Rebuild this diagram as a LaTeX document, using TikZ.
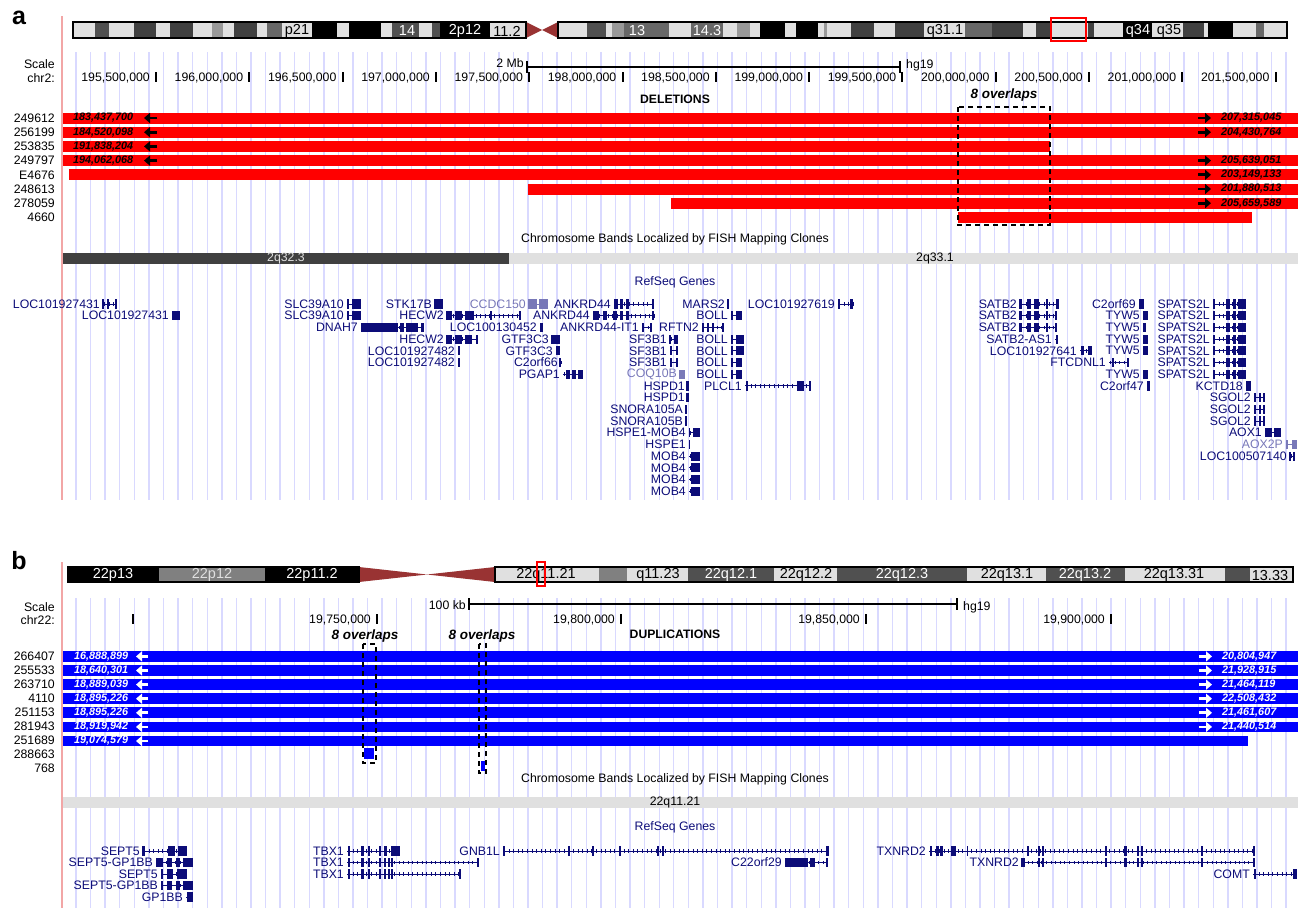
\documentclass[tikz,border=0pt]{standalone}
\usepackage{fontspec}
\setmainfont{Liberation Sans}
\usetikzlibrary{arrows.meta}

\definecolor{gridcol}{HTML}{D9D9FF}
\definecolor{pinkcol}{HTML}{F2A6A6}
\definecolor{genecol}{HTML}{0C0C78}
\definecolor{genelite}{HTML}{7878B8}
\definecolor{cenred}{HTML}{993333}
\definecolor{delred}{HTML}{FF0000}
\definecolor{dupblue}{HTML}{0000FF}
\definecolor{bandlt}{HTML}{E0E0E0}
\definecolor{band40}{HTML}{404040}
\definecolor{band50}{HTML}{505050}
\definecolor{band60}{HTML}{686868}
\definecolor{band80}{HTML}{808080}
\definecolor{band90}{HTML}{999999}

\tikzset{
  txt/.style={inner sep=0pt, font=\fontsize{12.3}{14}\selectfont},
  lbl/.style={txt, anchor=east},
  glbl/.style={txt, anchor=east, text=genecol},
  bandtxt/.style={inner sep=0pt, font=\fontsize{14.5}{15}\selectfont},
  bartxt/.style={inner sep=0pt, anchor=west, font=\fontsize{10.8}{12}\selectfont\bfseries\itshape},
  barr/.style={line width=2.8pt, -{Triangle[length=6pt,width=10pt]}},
  ovl/.style={inner sep=0pt, font=\fontsize{13.5}{15}\selectfont\bfseries\itshape},
  ovbox/.style={line width=1.5pt, dash pattern=on 5pt off 4pt},
  ideo/.style={line width=1.8pt},
  tick/.style={line width=2pt},
}

% gene: [colour]{name}{row}{label end}{text}{glyph end}{exons}
\newcommand\gene[7][genecol]{%
  \pgfmathsetmacro\gy{\rowy+\rowdy*#3}
  \node[glbl, text=#1] (#2) at (#4,\gy) {#5};
  \draw[#1, line width=0.9pt] (#4+3,\gy) -- (#6,\gy);
  \draw[#1, line width=3.6pt, dash pattern=on 0.8pt off 3.8pt] (#4+4,\gy) -- (#6,\gy);
  \foreach \ea/\eb in {#7} {\fill[#1] (\ea,\gy-4.6) rectangle (\eb,\gy+4.6);}
}

\begin{document}
\begin{tikzpicture}[x=1pt,y=-1pt]
  \useasboundingbox (0,0) rectangle (1298,908);

  % background grid and left rules
  \foreach \k in {0,...,83}{
    \draw[gridcol, line width=1.4pt] (76+14.58*\k,52) -- (76+14.58*\k,500);
    \draw[gridcol, line width=1.4pt] (76+14.58*\k,598) -- (76+14.58*\k,908);
  }
  \draw[pinkcol, line width=1.4pt] (62,16) -- (62,500);
  \draw[pinkcol, line width=1.4pt] (62,562) -- (62,908);

  %%%%%%%%%%%%%%%% panel a
  \node[inner sep=0pt, font=\fontsize{25}{25}\selectfont\bfseries] (pa) at (19,18) {a};

  % ideogram chr2
  \fill[bandlt] (73,22) rectangle (526,38);
  \fill[bandlt] (558,22) rectangle (1287,38);
  \foreach \xa/\xb/\bc in {95/109/band50, 134/156/band40, 170/193/band40, 212/223/band90,
      234/257/band40, 267/282/band60, 312/337/black, 349/381/black, 392/419/band50,
      432/440/band50, 440/490/black, 587/606/band50, 612/624/band90, 624/669/band60,
      691/723/band60, 737/750/band90, 760/785/black, 796/818/black, 824/827/band90,
      851/874/band40, 895/924/band40, 965/992/band60, 992/1023/band40, 1036/1052/band40,
      1088/1094/band40, 1123/1152/black, 1183/1204/band40, 1208/1233/black, 1256/1264/band60}
    \fill[\bc] (\xa,22) rectangle (\xb,38);
  \fill[cenred] (526,22) -- (542,30) -- (526,38) -- cycle;
  \fill[cenred] (558,22) -- (542,30) -- (558,38) -- cycle;
  \draw[ideo] (73,22) rectangle (526,38);
  \draw[ideo] (558,22) rectangle (1287,38);
  \node[bandtxt] (ba1) at (297,31) {p21};
  \node[bandtxt, text=white] (ba2) at (407,31) {14};
  \node[bandtxt, text=white] (ba3) at (465,31) {2p12};
  \node[bandtxt] (ba4) at (507,31) {11.2};
  \node[bandtxt, text=white] (ba5) at (637,31) {13};
  \node[bandtxt, text=white] (ba6) at (707,31) {14.3};
  \node[bandtxt] (ba7) at (945,31) {q31.1};
  \node[bandtxt, text=white] (ba8) at (1138,31) {q34};
  \node[bandtxt] (ba9) at (1169,31) {q35};
  \draw[red, line width=2pt] (1051,18) rectangle (1086,41);

  % scale
  \node[lbl] (sca) at (55,64) {Scale};
  \node[lbl] (chra) at (55,78) {chr2:};
  \node[lbl] (mb) at (524,63) {2 Mb};
  \draw[line width=1.5pt] (527,67) -- (900,67);
  \draw[line width=1.5pt] (527,61) -- (527,73);
  \draw[line width=1.5pt] (900,61) -- (900,73);
  \node[txt, anchor=west] (hga) at (906,65) {hg19};
  \foreach \xv/\lab [count=\i] in {156/{195,500,000}, 249.3/{196,000,000}, 342.6/{196,500,000},
      435.9/{197,000,000}, 529.2/{197,500,000}, 622.5/{198,000,000}, 715.8/{198,500,000},
      809.1/{199,000,000}, 902.4/{199,500,000}, 995.7/{200,000,000}, 1089/{200,500,000},
      1182.3/{201,000,000}, 1275.6/{201,500,000}}{
    \draw[tick] (\xv,72) -- (\xv,82);
    \node[lbl] (ta\i) at (\xv-6,77.5) {\lab};
  }

  % deletions track
  \node[inner sep=0pt, font=\fontsize{12.2}{14}\selectfont\bfseries] (dels) at (675,99) {DELETIONS};
  \node[ovl] (ova) at (1004,95) {8 overlaps};
  \foreach \r/\xa/\xb in {0/63/1298, 1/63/1298, 2/63/1050, 3/63/1298,
      4/69/1298, 5/528/1298, 6/671/1298, 7/958/1252}
    \fill[delred] (\xa,112.5+14.2*\r) rectangle (\xb,123.5+14.2*\r);
  \node[lbl] (da0) at (55,118) {249612};
  \node[lbl] (da1) at (55,132.2) {256199};
  \node[lbl] (da2) at (55,146.4) {253835};
  \node[lbl] (da3) at (55,160.6) {249797};
  \node[lbl] (da4) at (55,174.8) {E4676};
  \node[lbl] (da5) at (55,189) {248613};
  \node[lbl] (da6) at (55,203.2) {278059};
  \node[lbl] (da7) at (55,217.4) {4660};
  \node[bartxt] (la0) at (73,118) {183,437,700};
  \node[bartxt] (la1) at (73,132.2) {184,520,098};
  \node[bartxt] (la2) at (73,146.4) {191,838,204};
  \node[bartxt] (la3) at (73,160.6) {194,062,068};
  \foreach \yy in {118,132.2,146.4,160.6} \draw[barr] (157,\yy) -- (144,\yy);
  \foreach \yy in {118,132.2,160.6,174.8,189,203.2} \draw[barr] (1198,\yy) -- (1211,\yy);
  \node[bartxt] (ra0) at (1221,118) {207,315,045};
  \node[bartxt] (ra1) at (1221,132.2) {204,430,764};
  \node[bartxt] (ra3) at (1221,160.6) {205,639,051};
  \node[bartxt] (ra4) at (1221,174.8) {203,149,133};
  \node[bartxt] (ra5) at (1221,189) {201,880,513};
  \node[bartxt] (ra6) at (1221,203.2) {205,659,589};
  \draw[ovbox] (958,107) rectangle (1050,225);

  % FISH bands
  \node[txt] (fisha) at (675,239) {Chromosome Bands Localized by FISH Mapping Clones};
  \fill[band40] (63,252.5) rectangle (509,264);
  \fill[bandlt] (509,252.5) rectangle (1298,264);
  \node[txt, text=bandlt] (fa1) at (286,258.5) {2q32.3};
  \node[txt] (fa2) at (935,258.5) {2q33.1};

  % RefSeq genes
  \node[txt, text=genecol] (rsa) at (675,282) {RefSeq Genes};
  \def\rowy{304}\def\rowdy{11.7}
  \gene{loc1}{0}{100}{LOC101927431}{117}{102/104,107/109,115/117}
  \gene{slc1}{0}{344}{SLC39A10}{361}{347/349,352/361}
  \gene{stk1}{0}{432}{STK17B}{443}{434/443}
  \gene[genelite]{ccdc1}{0}{526}{CCDC150}{548}{528/537,539/548}
  \gene{ank1}{0}{611}{ANKRD44}{654}{614/618,620/623,626/629,652/654}
  \gene{mars1}{0}{725}{MARS2}{729}{727/729}
  \gene{loc3}{0}{835}{LOC101927619}{853}{838/840,850/853}
  \gene{satb1}{0}{1017}{SATB2}{1059}{1019/1022,1027/1031,1034/1039,1046/1048,1056/1059}
  \gene{c2o1}{0}{1136}{C2orf69}{1144}{1139/1144}
  \gene{spa1}{0}{1210}{SPATS2L}{1246}{1213/1215,1226/1230,1233/1236,1238/1246}
  \gene{loc2}{1}{169}{LOC101927431}{180}{172/180}
  \gene{slc2}{1}{344}{SLC39A10}{361}{347/349,352/361}
  \gene{hecw1}{1}{444}{HECW2}{521}{446/452,455/462,465/474,490/492,519/521}
  \gene{ank2}{1}{590}{ANKRD44}{654}{593/599,603/607,613/617,620/623,626/629,652/654}
  \gene{boll1}{1}{728}{BOLL}{742}{731/733,736/742}
  \gene{satb2}{1}{1017}{SATB2}{1057}{1019/1022,1027/1031,1034/1039,1046/1048,1055/1057}
  \gene{tyw1}{1}{1140}{TYW5}{1148}{1143/1148}
  \gene{spa2}{1}{1210}{SPATS2L}{1246}{1213/1215,1226/1230,1233/1236,1238/1246}
  \gene{dnah}{2}{358}{DNAH7}{424}{361/398,400/404,406/418,421/424}
  \gene{loc4}{2}{537}{LOC100130452}{543}{540/543}
  \gene{ankit}{2}{639}{ANKRD44-IT1}{652}{642/644,650/652}
  \gene{rftn}{2}{699}{RFTN2}{724}{702/704,707/709,712/714,722/724}
  \gene{satb3}{2}{1017}{SATB2}{1057}{1019/1022,1027/1031,1034/1039,1046/1048,1055/1057}
  \gene{tyw2}{2}{1140}{TYW5}{1146}{1143/1146}
  \gene{spa3}{2}{1210}{SPATS2L}{1246}{1213/1215,1226/1230,1233/1236,1238/1246}
  \gene{hecw2}{3}{444}{HECW2}{478}{446/452,455/462,465/472,476/478}
  \gene{gtf1}{3}{549}{GTF3C3}{560}{551/560}
  \gene{sf1}{3}{667}{SF3B1}{678}{669/671,674/678}
  \gene{boll2}{3}{728}{BOLL}{744}{731/733,736/744}
  \gene{satbas}{3}{1052}{SATB2-AS1}{1058}{1056/1058}
  \gene{tyw3}{3}{1140}{TYW5}{1148}{1143/1148}
  \gene{spa4}{3}{1210}{SPATS2L}{1246}{1213/1215,1226/1230,1233/1236,1238/1246}
  \gene{loc5}{4}{455}{LOC101927482}{460}{458/460}
  \gene{gtf2}{4}{553}{GTF3C3}{560}{556/560}
  \gene{sf2}{4}{667}{SF3B1}{678}{670/672,676/678}
  \gene{boll3}{4}{728}{BOLL}{744}{731/733,736/744}
  \gene{loc7}{4}{1077}{LOC101927641}{1092}{1081/1084,1088/1092}
  \gene{tyw4}{4}{1140}{TYW5}{1148}{1143/1148}
  \gene{spa5}{4}{1210}{SPATS2L}{1246}{1213/1215,1226/1230,1233/1236,1238/1246}
  \gene{loc6}{5}{455}{LOC101927482}{460}{458/460}
  \gene{c2o2}{5}{558}{C2orf66}{561}{559/561}
  \gene{sf3}{5}{667}{SF3B1}{678}{670/672,676/678}
  \gene{boll4}{5}{728}{BOLL}{742}{731/733,736/742}
  \gene{ftc}{5}{1106}{FTCDNL1}{1129}{1112/1114,1127/1129}
  \gene{spa6}{5}{1210}{SPATS2L}{1246}{1213/1215,1226/1230,1233/1236,1238/1246}
  \gene{pgap}{6}{560}{PGAP1}{583}{566/570,572/576,578/583}
  \gene[genelite]{coq}{6}{677}{COQ10B}{685}{679/685}
  \gene{boll5}{6}{728}{BOLL}{742}{731/733,736/742}
  \gene{tyw5}{6}{1140}{TYW5}{1148}{1143/1148}
  \gene{spa7}{6}{1210}{SPATS2L}{1246}{1213/1215,1226/1230,1233/1236,1238/1246}
  \gene{hspd1}{7}{685}{HSPD1}{689}{686/689}
  \gene{plcl}{7}{742}{PLCL1}{811}{746/748,797/804,809/811}
  \gene{c2o3}{7}{1144}{C2orf47}{1150}{1147/1150}
  \gene{kctd}{7}{1243}{KCTD18}{1251}{1246/1251}
  \gene{hspd2}{8}{685}{HSPD1}{689}{686/689}
  \gene{sgol1}{8}{1251}{SGOL2}{1265}{1254/1256,1259/1261,1263/1265}
  \gene{snoa}{9}{683}{SNORA105A}{687}{685/687}
  \gene{sgol2}{9}{1251}{SGOL2}{1265}{1254/1256,1259/1261,1263/1265}
  \gene{snob}{10}{683}{SNORA105B}{687}{685/687}
  \gene{sgol3}{10}{1251}{SGOL2}{1265}{1254/1256,1259/1261,1263/1265}
  \gene{hsmob}{11}{686}{HSPE1-MOB4}{700}{689/690,693/700}
  \gene{aox1}{11}{1262}{AOX1}{1281}{1265/1272,1274/1281}
  \gene{hspe}{12}{686}{HSPE1}{690}{689/690}
  \gene[genelite]{aox2}{12}{1283}{AOX2P}{1297}{1286/1288,1292/1297}
  \gene{mob1}{13}{686}{MOB4}{700}{691/700}
  \gene{loc8}{13}{1287}{LOC100507140}{1295}{1289/1291,1293/1295}
  \gene{mob2}{14}{686}{MOB4}{700}{691/700}
  \gene{mob3}{15}{686}{MOB4}{700}{691/700}
  \gene{mob4}{16}{686}{MOB4}{700}{691/700}

  %%%%%%%%%%%%%%%% panel b
  \node[inner sep=0pt, font=\fontsize{25}{25}\selectfont\bfseries] (pb) at (19,561) {b};

  % ideogram chr22
  \fill[black] (68,567) rectangle (159,582);
  \fill[band80] (159,567) rectangle (265,582);
  \fill[black] (265,567) rectangle (359,582);
  \fill[bandlt] (495,567) rectangle (1293,582);
  \foreach \xa/\xb/\bc in {599/627/band80, 688/774/band50, 837/967/band50,
      1046/1125/band50, 1225/1250/band50}
    \fill[\bc] (\xa,567) rectangle (\xb,582);
  \fill[cenred] (359,567) -- (427,574.5) -- (359,582) -- cycle;
  \fill[cenred] (495,567) -- (427,574.5) -- (495,582) -- cycle;
  \draw[ideo] (68,567) rectangle (359,582);
  \draw[ideo] (495,567) rectangle (1293,582);
  \node[bandtxt, text=white] (bb1) at (113,575) {22p13};
  \node[bandtxt, text=bandlt] (bb2) at (212,575) {22p12};
  \node[bandtxt, text=white] (bb3) at (312,575) {22p11.2};
  \node[bandtxt] (bb4) at (546,575) {22q11.21};
  \node[bandtxt] (bb5) at (658,575) {q11.23};
  \node[bandtxt, text=white] (bb6) at (731,575) {22q12.1};
  \node[bandtxt] (bb7) at (806,575) {22q12.2};
  \node[bandtxt, text=white] (bb8) at (902,575) {22q12.3};
  \node[bandtxt] (bb9) at (1007,575) {22q13.1};
  \node[bandtxt, text=white] (bb10) at (1085,575) {22q13.2};
  \node[bandtxt] (bb11) at (1174,575) {22q13.31};
  \node[bandtxt] (bb12) at (1270,575) {13.33};
  \draw[red, line width=2pt] (537,562) rectangle (545,586);

  % scale
  \node[lbl] (scb) at (55,607) {Scale};
  \node[lbl] (chrb) at (55,620.5) {chr22:};
  \node[lbl] (kb) at (466,605) {100 kb};
  \draw[line width=1.5pt] (469,604) -- (957,604);
  \draw[line width=1.5pt] (469,598) -- (469,610);
  \draw[line width=1.5pt] (957,598) -- (957,610);
  \node[txt, anchor=west] (hgb) at (963,607) {hg19};
  \draw[tick] (133,614) -- (133,624);
  \foreach \xv/\lab [count=\i] in {377/{19,750,000}, 621/{19,800,000},
      866/{19,850,000}, 1111/{19,900,000}}{
    \draw[tick] (\xv,614) -- (\xv,624);
    \node[lbl] (tb\i) at (\xv-6,620) {\lab};
  }

  % duplications track
  \node[inner sep=0pt, font=\fontsize{12.2}{14}\selectfont\bfseries] (dups) at (675,634) {DUPLICATIONS};
  \node[ovl] (ovb1) at (365,636) {8 overlaps};
  \node[ovl] (ovb2) at (482,636) {8 overlaps};
  \foreach \r/\xb in {0/1298, 1/1298, 2/1298, 3/1298, 4/1298, 5/1298, 6/1248}
    \fill[dupblue] (63,651+14.1*\r) rectangle (\xb,661.7+14.1*\r);
  \fill[dupblue] (364,748) rectangle (374,759);
  \fill[dupblue] (480.5,761) rectangle (484.5,771);
  \node[lbl] (db0) at (55,656.4) {266407};
  \node[lbl] (db1) at (55,670.4) {255533};
  \node[lbl] (db2) at (55,684.3) {263710};
  \node[lbl] (db3) at (55,698.3) {4110};
  \node[lbl] (db4) at (55,712.2) {251153};
  \node[lbl] (db5) at (55,726.2) {281943};
  \node[lbl] (db6) at (55,740.1) {251689};
  \node[lbl] (db7) at (55,754.1) {288663};
  \node[lbl] (db8) at (55,768) {768};
  \node[bartxt, text=white] (lb0) at (74,656.4) {16,888,899};
  \node[bartxt, text=white] (lb1) at (74,670.5) {18,640,301};
  \node[bartxt, text=white] (lb2) at (74,684.6) {18,889,039};
  \node[bartxt, text=white] (lb3) at (74,698.7) {18,895,226};
  \node[bartxt, text=white] (lb4) at (74,712.8) {18,895,226};
  \node[bartxt, text=white] (lb5) at (74,726.9) {18,919,942};
  \node[bartxt, text=white] (lb6) at (74,741) {19,074,579};
  \foreach \r in {0,...,6} \draw[barr, white] (148,656.4+14.1*\r) -- (136,656.4+14.1*\r);
  \foreach \r in {0,...,5} \draw[barr, white] (1199,656.4+14.1*\r) -- (1212,656.4+14.1*\r);
  \node[bartxt, text=white] (rb0) at (1222,656.4) {20,804,947};
  \node[bartxt, text=white] (rb1) at (1222,670.5) {21,928,915};
  \node[bartxt, text=white] (rb2) at (1222,684.6) {21,464,119};
  \node[bartxt, text=white] (rb3) at (1222,698.7) {22,508,432};
  \node[bartxt, text=white] (rb4) at (1222,712.8) {21,461,607};
  \node[bartxt, text=white] (rb5) at (1222,726.9) {21,440,514};
  \draw[ovbox] (363,644) rectangle (376,763);
  \draw[ovbox] (479,644) rectangle (486,773);

  % FISH bands
  \node[txt] (fishb) at (675,779) {Chromosome Bands Localized by FISH Mapping Clones};
  \fill[bandlt] (63,797) rectangle (1298,807.5);
  \node[txt] (fb1) at (675,802.5) {22q11.21};

  % RefSeq genes
  \node[txt, text=genecol] (rsb) at (675,827) {RefSeq Genes};
  \def\rowy{851}\def\rowdy{11.5}
  \gene{sept1}{0}{140}{SEPT5}{187}{142/145,168/175,178/187}
  \gene{tbx1}{0}{344}{TBX1}{400}{348/350,361/364,368/370,379/381,384/387,391/400}
  \gene{gnb}{0}{500}{GNB1L}{829}{503/505,568/570,592/594,619/621,657/659,662/664,826/829}
  \gene{txn1}{0}{926}{TXNRD2}{1255}{930/932,936/939,940/943,951/956,967/968,1027/1029,1038/1040,1042/1044,1105/1107,1124/1127,1137/1139,1141/1143,1201/1203,1253/1255}
  \gene{sgp1}{1}{153}{SEPT5-GP1BB}{193}{156/163,167/172,176/180,183/193}
  \gene{tbx2}{1}{344}{TBX1}{479}{348/350,361/364,368/370,379/381,384/386,388/390,391/393,477/479}
  \gene{c22}{1}{782}{C22orf29}{828}{785/808,810/815,826/828}
  \gene{txn2}{1}{1019}{TXNRD2}{1255}{1021/1025,1038/1040,1042/1044,1105/1107,1124/1127,1137/1139,1141/1143,1201/1203,1253/1255}
  \gene{sept2}{2}{158}{SEPT5}{187}{161/163,167/173,177/187}
  \gene{tbx3}{2}{344}{TBX1}{461}{348/350,361/364,368/370,379/381,384/386,388/390,391/393,459/461}
  \gene{comt}{2}{1250}{COMT}{1297}{1254/1256,1293/1297}
  \gene{sgp2}{3}{158}{SEPT5-GP1BB}{193}{161/163,167/172,176/180,183/193}
  \gene{gp1}{4}{183}{GP1BB}{193}{187/193}
\end{tikzpicture}
\end{document}
